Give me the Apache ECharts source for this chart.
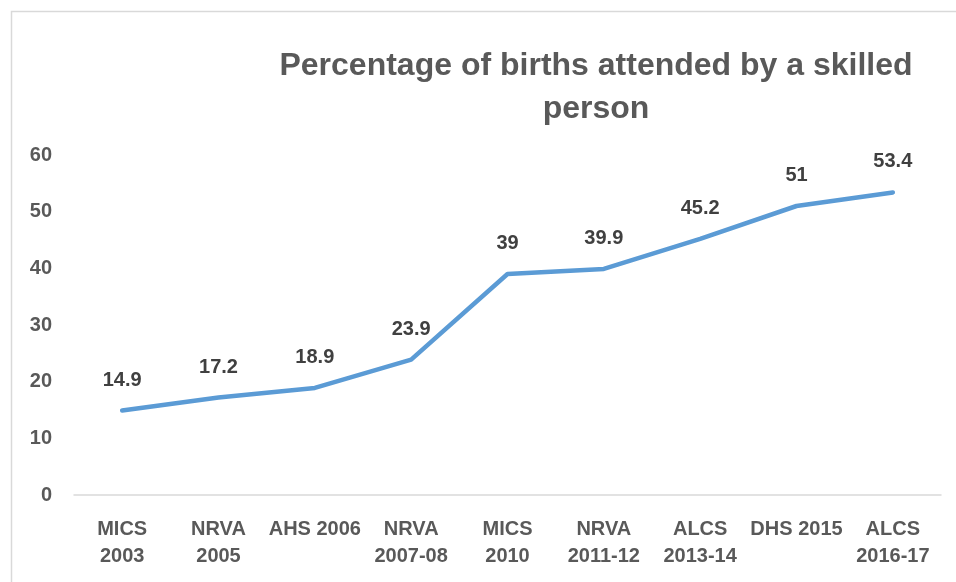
<!DOCTYPE html>
<html><head><meta charset="utf-8">
<script src="https://cdn.jsdelivr.net/npm/echarts@6/dist/echarts.min.js"></script>
<style>html,body{margin:0;padding:0;background:#fff}#c{width:956px;height:582px}</style>
</head><body><div id="c"></div>
<script>
const categories = ['MICS\n2003','NRVA\n2005','AHS 2006','NRVA\n2007-08','MICS\n2010','NRVA\n2011-12','ALCS\n2013-14','DHS 2015','ALCS\n2016-17'];
const values = [14.9, 17.2, 18.9, 23.9, 39, 39.9, 45.2, 51, 53.4];
const yTicks = {min: 0, max: 60, interval: 10};
const titleText = 'Percentage of births attended by a skilled\nperson';

const chart = echarts.init(document.getElementById('c'));
const font = 'Liberation Sans';
chart.setOption({
  animation: false,
  graphic: [{type:'rect', shape:{x:11.5,y:11.5,width:960,height:600}, style:{fill:'none',stroke:'#D9D9D9',lineWidth:1.5}, silent:true, z:-1}],
  title: {text: titleText, left: 591, textAlign: 'center', top: 40,
    textStyle: {fontFamily: font, fontWeight: 'bold', fontSize: 32, color: '#595959', lineHeight: 43}},
  grid: {left: 74, right: 15, top: 155, bottom: 87, containLabel: false},
  xAxis: {type: 'category', data: categories, boundaryGap: true,
    axisLine: {lineStyle: {color: '#D9D9D9', width: 1.5}}, axisTick: {show: false},
    axisLabel: {interval: 0, margin: 21, fontFamily: font, fontWeight: 'bold', fontSize: 20, color: '#595959', lineHeight: 27}},
  yAxis: {type: 'value', min: yTicks.min, max: yTicks.max, interval: yTicks.interval,
    axisLine: {show: false}, axisTick: {show: false}, splitLine: {show: false},
    axisLabel: {margin: 22, fontFamily: font, fontWeight: 'bold', fontSize: 20, color: '#595959'}},
  series: [{type: 'line', data: values, showSymbol: true, symbol: 'circle', symbolSize: 1,
    itemStyle: {color: 'rgba(0,0,0,0)'},
    lineStyle: {color: '#5B9BD5', width: 4.5, cap: 'round', join: 'round'},
    label: {show: true, position: 'top', distance: 20, fontFamily: font, fontWeight: 'bold', fontSize: 20, color: '#404040'}}]
});
</script></body></html>
